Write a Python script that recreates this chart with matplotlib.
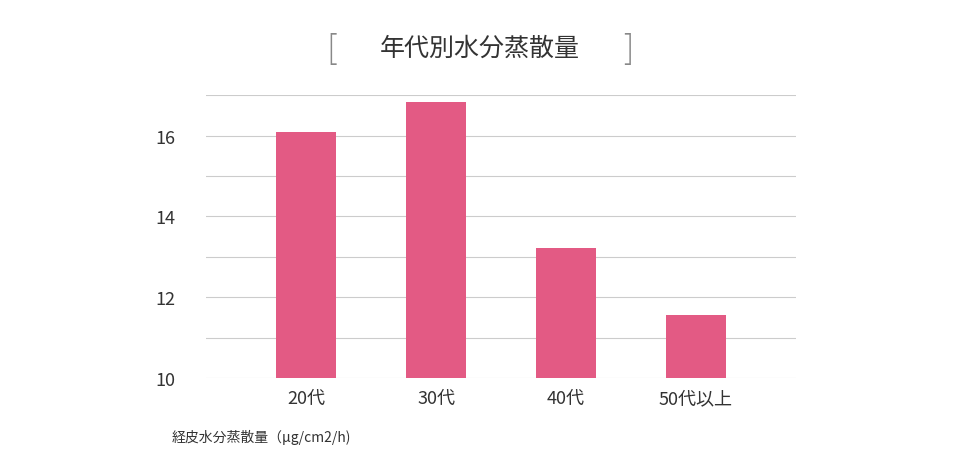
import matplotlib.pyplot as plt
from matplotlib.ticker import MultipleLocator

plt.rcParams['font.family'] = ['Noto Sans CJK JP', 'DejaVu Sans']

# データ
categories = ['20代', '30代', '40代', '50代以上']
values = [16.1, 16.84, 13.21, 11.56]

fig = plt.figure(figsize=(9.6, 4.6), dpi=100)
ax = fig.add_axes([0.2146, 0.176, 0.6146, 0.615])

ax.bar(range(len(categories)), values, width=0.46, color='#E35A84', zorder=3)
ax.set_xlim(-0.77, 3.77)
ax.set_ylim(10, 17)
ax.set_xticks(range(len(categories)))
ax.set_xticklabels(categories, fontsize=13, color='#333333')
ax.set_yticks([10, 12, 14, 16])
ax.yaxis.set_minor_locator(MultipleLocator(1))
ax.tick_params(axis='y', labelsize=13, colors='#333333', length=0, pad=22)
ax.tick_params(axis='x', length=0, pad=8)
ax.tick_params(which='minor', length=0)
ax.grid(axis='y', which='both', color='#cccccc', linewidth=0.8, zorder=0)
for s in ax.spines.values():
    s.set_visible(False)

fig.text(0.5, 0.895, '年代別水分蒸散量', ha='center', va='center', fontsize=18, color='#333333')
fig.text(0.345, 0.895, '[', ha='center', va='center', fontsize=24, color='#888888', fontweight='light')
fig.text(0.655, 0.895, ']', ha='center', va='center', fontsize=24, color='#888888', fontweight='light')
fig.text(0.179, 0.05, '経皮水分蒸散量（μg/cm2/h)', ha='left', va='center', fontsize=10, color='#333333')

fig.savefig('out.png', dpi=100)
